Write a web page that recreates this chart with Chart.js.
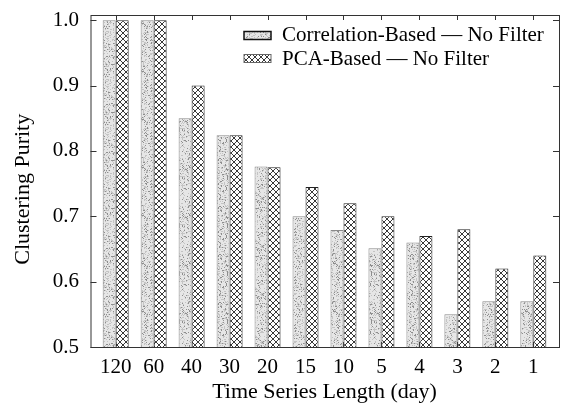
<!DOCTYPE html>
<html lang="en">
<head>
    <meta charset="UTF-8">
    <title>Clustering Purity</title>
    <script src="https://cdn.jsdelivr.net/npm/chart.js"></script>
    <style>
        html, body { margin: 0; padding: 0; background: #fff; }
        #chart-container { width: 561px; height: 404px; }
    </style>
</head>
<body>
    <div id="chart-container">
        <canvas id="purityChart"></canvas>
    </div>
    <script>
        // values
        const lengths = ['120', '60', '40', '30', '20', '15', '10', '5', '4', '3', '2', '1'];
        const correlationPurity = [1.0, 1.0, 0.85, 0.824, 0.776, 0.70, 0.679, 0.651, 0.66, 0.55, 0.57, 0.57];
        const pcaPurity = [1.0, 1.0, 0.90, 0.824, 0.775, 0.745, 0.72, 0.70, 0.67, 0.68, 0.62, 0.64];
        const yTicks = [0.5, 0.6, 0.7, 0.8, 0.9, 1.0];

        const serif = 'Liberation Serif';

        // stippled fill: light grey with dark specks (fixed seed so it looks the same every run)
        function makeStipple() {
            const c = document.createElement('canvas');
            c.width = 48; c.height = 48;
            const g = c.getContext('2d');
            g.fillStyle = '#e6e6e6';
            g.fillRect(0, 0, 48, 48);
            let seed = 12345;
            for (let y = 0; y < 48; y++) {
                for (let x = 0; x < 48; x++) {
                    seed = (seed * 1103515245 + 12345) & 0x7fffffff;
                    const r = seed / 0x7fffffff;
                    if (r < 0.1) { g.fillStyle = '#8e8e8e'; g.fillRect(x, y, 1, 1); }
                    else if (r < 0.3) { g.fillStyle = '#c4c4c4'; g.fillRect(x, y, 1, 1); }
                }
            }
            return g.createPattern(c, 'repeat');
        }

        function makeCrosshatch() {
            const c = document.createElement('canvas');
            c.width = 6; c.height = 6;
            const g = c.getContext('2d');
            g.fillStyle = '#fff';
            g.fillRect(0, 0, 6, 6);
            g.strokeStyle = '#222';
            g.lineWidth = 0.9;
            g.beginPath();
            g.moveTo(-1, -1); g.lineTo(7, 7);
            g.moveTo(-1, 7); g.lineTo(7, -1);
            g.stroke();
            return g.createPattern(c, 'repeat');
        }

        const stipple = makeStipple();
        const hatch = makeCrosshatch();

        // gnuplot-ish frame with inward ticks, a bit wider than the category area
        const framePad = { left: 6.2, right: 6.7 };
        const framePlugin = {
            id: 'frame',
            beforeDatasetsDraw(chart) {
                const { ctx, chartArea, scales } = chart;
                const l = chartArea.left - framePad.left, r = chartArea.right + framePad.right;
                const t = chartArea.top, b = chartArea.bottom;
                ctx.save();
                ctx.strokeStyle = '#333';
                ctx.lineWidth = 1;
                ctx.strokeRect(l + 0.5, t + 0.5, r - l, b - t);
                ctx.beginPath();
                yTicks.forEach(v => {
                    const y = Math.round(scales.y.getPixelForValue(v)) + 0.5;
                    ctx.moveTo(l, y); ctx.lineTo(l + 6, y);
                    ctx.moveTo(r, y); ctx.lineTo(r - 6, y);
                });
                lengths.forEach((_, i) => {
                    const x = Math.round(scales.x.getPixelForValue(i)) + 0.5;
                    ctx.moveTo(x, t); ctx.lineTo(x, t + 5);
                    ctx.moveTo(x, b); ctx.lineTo(x, b - 5);
                });
                ctx.stroke();
                ctx.restore();
            }
        };

        const legendPlugin = {
            id: 'boxLegend',
            afterDraw(chart) {
                const { ctx, chartArea } = chart;
                const r = chartArea.right + framePad.right;
                const boxX = r - 315, textX = r - 277;
                const rows = [
                    { base: 41, top: 31.5, border: '#111', lw: 1.5 },
                    { base: 64.5, top: 54.5, border: '#666', lw: 1 }
                ];
                ctx.save();
                chart.data.datasets.forEach((ds, i) => {
                    const row = rows[i];
                    ctx.fillStyle = ds.backgroundColor;
                    ctx.fillRect(boxX, row.top, 27, 8);
                    ctx.strokeStyle = row.border;
                    ctx.lineWidth = row.lw;
                    ctx.strokeRect(boxX, row.top, 27, 8);
                    ctx.fillStyle = '#000';
                    ctx.font = '21px "' + serif + '"';
                    ctx.textBaseline = 'alphabetic';
                    ctx.textAlign = 'left';
                    ctx.fillText(ds.label, textX, row.base);
                });
                ctx.restore();
            }
        };

        const ctx = document.getElementById('purityChart').getContext('2d');
        new Chart(ctx, {
            type: 'bar',
            data: {
                labels: lengths,
                datasets: [
                    {
                        label: 'Correlation-Based \u2014 No Filter',
                        data: correlationPurity,
                        backgroundColor: stipple,
                        borderColor: '#8a8a8a',
                        borderWidth: 1,
                        categoryPercentage: 0.685,
                        barPercentage: 1.0
                    },
                    {
                        label: 'PCA-Based \u2014 No Filter',
                        data: pcaPurity,
                        backgroundColor: hatch,
                        borderColor: '#222',
                        borderWidth: 1,
                        categoryPercentage: 0.685,
                        barPercentage: 1.0
                    }
                ]
            },
            options: {
                responsive: true,
                maintainAspectRatio: false,
                animation: false,
                layout: { padding: { top: 15, right: 8.7, left: 0, bottom: 0 } },
                plugins: {
                    legend: { display: false },
                    tooltip: { enabled: false }
                },
                scales: {
                    x: {
                        grid: { display: false },
                        border: { display: false },
                        ticks: {
                            color: '#000',
                            padding: 0,
                            font: { family: serif, size: 21 }
                        },
                        title: {
                            display: true,
                            text: 'Time Series Length (day)',
                            color: '#000',
                            padding: 0,
                            font: { family: serif, size: 22, lineHeight: 1.04 }
                        },
                        afterFit(scale) {
                            scale.height = 57;
                            scale.paddingLeft = 0;
                            scale.paddingRight = 0;
                        }
                    },
                    y: {
                        min: 0.5,
                        max: 1.008,
                        grid: { display: false },
                        border: { display: false },
                        afterBuildTicks(scale) { scale.ticks = yTicks.map(v => ({ value: v })); },
                        ticks: {
                            color: '#000',
                            padding: 9.7,
                            font: { family: serif, size: 21 },
                            callback: v => v.toFixed(1)
                        },
                        title: {
                            display: true,
                            // trailing spaces nudge the label down a little, as in the original
                            text: 'Clustering Purity   ',
                            color: '#000',
                            padding: { top: 10, bottom: 0 },
                            font: { family: serif, size: 22 }
                        },
                        afterFit(scale) {
                            scale.width = 96.7;
                            scale.paddingTop = 0;
                            scale.paddingBottom = 0;
                        }
                    }
                }
            },
            plugins: [framePlugin, legendPlugin]
        });
    </script>
</body>
</html>
